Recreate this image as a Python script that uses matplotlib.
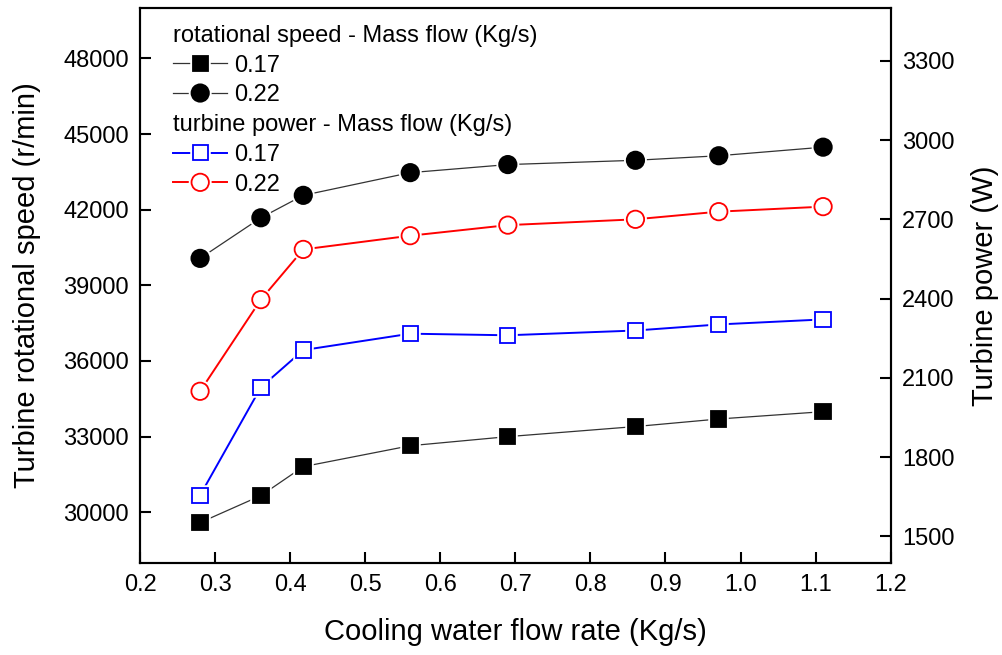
import matplotlib
matplotlib.use('Agg')
import matplotlib.pyplot as plt
import matplotlib.patheffects as pe
from matplotlib.legend_handler import HandlerTuple
import numpy as np

plt.rcParams['font.family'] = ['Liberation Sans', 'DejaVu Sans']

# 冷却水流量 (Kg/s)
water_flow = [0.28, 0.361, 0.4175, 0.56, 0.69, 0.86, 0.971, 1.11]

# 转速 (r/min)
speed_017 = [29590, 30660, 31810, 32640, 33000, 33400, 33700, 33990]
speed_022 = [40070, 41680, 42570, 43470, 43790, 43960, 44140, 44480]

# 功率 (W)
power_017 = [1655, 2064, 2205, 2267, 2261, 2279, 2302, 2321]
power_022 = [2049, 2396, 2586, 2638, 2678, 2700, 2729, 2748]

x_ticks = [0.2, 0.3, 0.4, 0.5, 0.6, 0.7, 0.8, 0.9, 1.0, 1.1, 1.2]
left_ticks = [30000, 33000, 36000, 39000, 42000, 45000, 48000]
right_ticks = [1500, 1800, 2100, 2400, 2700, 3000, 3300]

fig, ax = plt.subplots(figsize=(10.03, 6.55), dpi=100)
fig.subplots_adjust(left=0.1396, right=0.888, top=0.9878, bottom=0.1409)
ax2 = ax.twinx()

halo = [pe.Stroke(linewidth=4, foreground='white'), pe.Normal()]


def series(axis, y, color, lw, marker, ms, face):
    # 先画连线, 再画带白边的标记, 模拟线与标记之间的空隙
    ln, = axis.plot(water_flow, y, color=color, lw=lw, zorder=2)
    mk, = axis.plot(water_flow, y, ls='none', marker=marker, ms=ms,
                    mfc=face, mec=color if face == 'white' else 'black',
                    mew=1.3, zorder=3, path_effects=halo)
    return (ln, mk)


h1 = series(ax, speed_017, '#333333', 0.9, 's', 11, 'black')
h2 = series(ax, speed_022, '#333333', 0.9, 'o', 12.5, 'black')
h3 = series(ax2, power_017, '#0000ff', 1.4, 's', 11, 'white')
h4 = series(ax2, power_022, '#ff0000', 1.4, 'o', 12.5, 'white')

ax.set_xlim(0.2, 1.2)
ax.set_ylim(28000, 50000)
ax2.set_ylim(1400, 3500)

ax.set_xticks(x_ticks)
ax.set_xticklabels([f'{v:.1f}' for v in x_ticks])
ax.set_yticks(left_ticks)
ax2.set_yticks(right_ticks)

ax.set_xlabel('Cooling water flow rate (Kg/s)', fontsize=21, labelpad=16)
ax.set_ylabel('Turbine rotational speed (r/min)', fontsize=21, labelpad=16)
ax2.set_ylabel('Turbine power (W)', fontsize=21, labelpad=12)

for a in (ax, ax2):
    for s in a.spines.values():
        s.set_linewidth(1.5)
    a.tick_params(direction='in', length=8, width=1.5, labelsize=17, pad=8)

ax2.tick_params(axis='y', left=False, right=True)
ax.tick_params(axis='y', right=False)
ax.tick_params(axis='x', top=False)

hmap = {tuple: HandlerTuple(ndivide=1, pad=0)}
leg_kw = dict(frameon=False, fontsize=17, title_fontsize=17, alignment='left',
              handlelength=2.3, handletextpad=0.3, labelspacing=0.32,
              borderaxespad=0.0, borderpad=0.0, numpoints=1, handler_map=hmap)

leg1 = ax2.legend([h1, h2], ['0.17', '0.22'],
                  title='rotational speed - Mass flow (Kg/s)',
                  loc='upper left', bbox_to_anchor=(0.044, 0.969), **leg_kw)
ax2.add_artist(leg1)
leg2 = ax2.legend([h3, h4], ['0.17', '0.22'],
                  title='turbine power - Mass flow (Kg/s)',
                  loc='upper left', bbox_to_anchor=(0.044, 0.808), **leg_kw)

plt.savefig('out.png', dpi=100)
